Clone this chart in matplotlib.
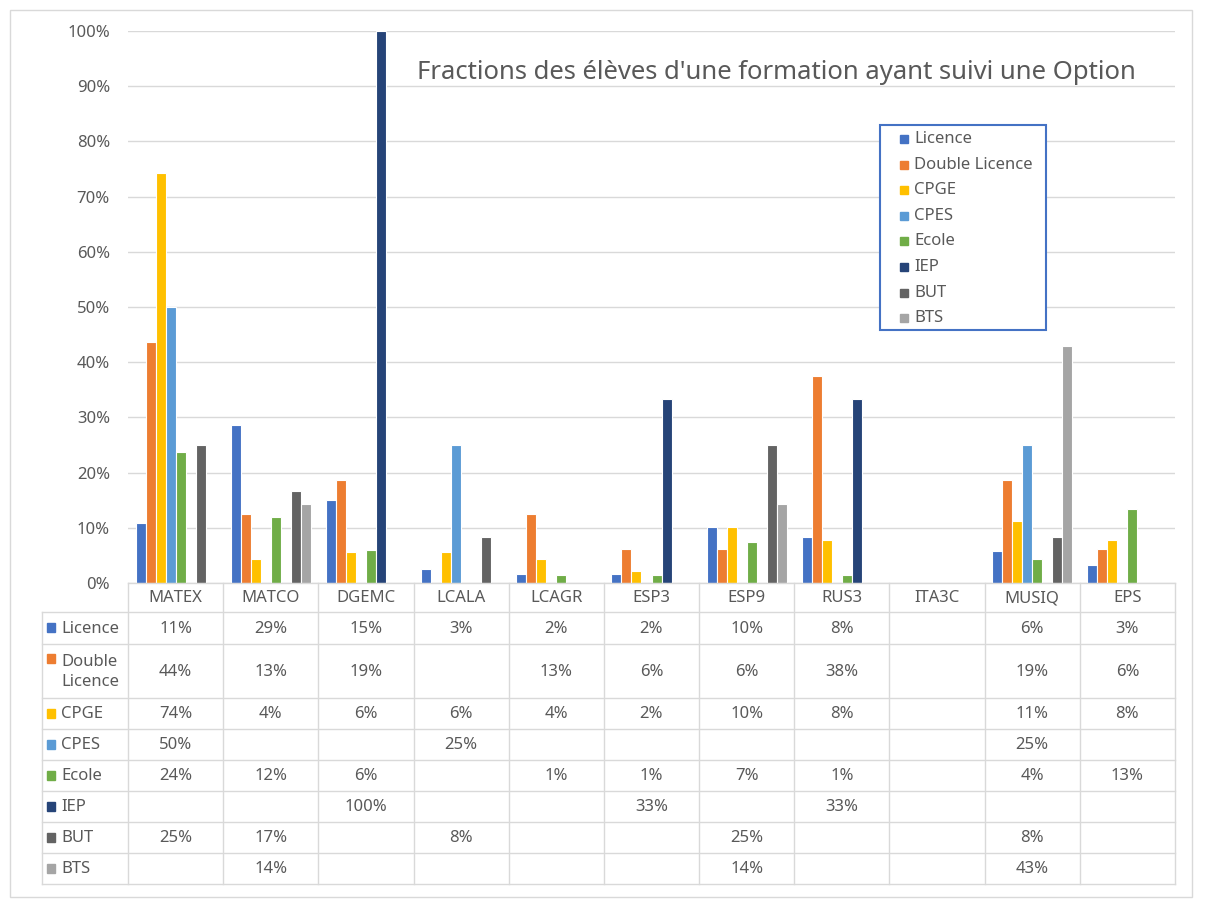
import numpy as np
import matplotlib.pyplot as plt
from matplotlib.patches import Rectangle

plt.rcParams['font.family'] = ['Noto Sans', 'DejaVu Sans']

categories = ['MATEX', 'MATCO', 'DGEMC', 'LCALA', 'LCAGR', 'ESP3', 'ESP9', 'RUS3', 'ITA3C', 'MUSIQ', 'EPS']
series = ['Licence', 'Double Licence', 'CPGE', 'CPES', 'Ecole', 'IEP', 'BUT', 'BTS']
row_labels = ['Licence', 'Double\nLicence', 'CPGE', 'CPES', 'Ecole', 'IEP', 'BUT', 'BTS']
colors = ['#4472C4', '#ED7D31', '#FFC000', '#5B9BD5', '#70AD47', '#264478', '#636363', '#A5A5A5']

n = np.nan
# valeurs en %
licence = [10.8, 28.6, 15.1, 2.5, 1.6, 1.6, 10.1, 8.4, n, 5.8, 3.3]
double_licence = [43.75, 12.5, 18.75, n, 12.5, 6.25, 6.25, 37.5, n, 18.75, 6.25]
cpge = [74.2, 4.4, 5.6, 5.6, 4.4, 2.2, 10.1, 7.8, n, 11.2, 7.8]
cpes = [50.0, n, n, 25.0, n, n, n, n, n, 25.0, n]
ecole = [23.8, 11.9, 6.0, n, 1.4, 1.4, 7.4, 1.4, n, 4.4, 13.4]
iep = [n, n, 100.0, n, n, 33.3, n, 33.3, n, n, n]
but = [25.0, 16.7, n, 8.3, n, n, 25.0, n, n, 8.3, n]
bts = [n, 14.3, n, n, n, n, 14.3, n, n, 42.9, n]
values = [licence, double_licence, cpge, cpes, ecole, iep, but, bts]

grey = '#595959'
line = '#d9d9d9'
W, H = 1205, 900

fig = plt.figure(figsize=(12.05, 9), dpi=100)
fig.patches.append(Rectangle((10 / W, 1 - 897 / H), 1182 / W, 887 / H, transform=fig.transFigure,
                             fill=False, edgecolor=line, linewidth=1))

# ---- graphique
ax = fig.add_axes([128 / W, 1 - 583 / H, (1175 - 128) / W, (583 - 31) / H])
x = np.arange(len(categories))
w = 1 / 9.5
for j, (name, vals) in enumerate(zip(series, values)):
    ax.bar(x + (j - 3.5) * w, np.nan_to_num(vals), width=w, color=colors[j],
           edgecolor='white', linewidth=0.8, label=name, zorder=3)
ax.set_xlim(-0.5, 10.5)
ax.set_ylim(0, 100)
ax.set_yticks(range(0, 101, 10))
ax.set_yticklabels([f'{v}%' for v in range(0, 101, 10)])
ax.set_xticks([])
ax.tick_params(axis='y', length=0, pad=13, colors=grey, labelsize=12)
ax.grid(axis='y', color=line, linewidth=1, zorder=0)
for s in ax.spines.values():
    s.set_visible(False)

ax.text(0.619, 0.924, "Fractions des élèves d'une formation ayant suivi une Option",
        transform=ax.transAxes, ha='center', va='center', fontsize=18.5, color=grey)

# legende (cadre bleu)
fig.patches.append(Rectangle((880 / W, 1 - 330 / H), 166 / W, 205 / H, transform=fig.transFigure,
                             facecolor='white', edgecolor='#4472C4', linewidth=1.5, zorder=5))
for k, (name, c) in enumerate(zip(series, colors)):
    yk = 139 + k * 25.6
    fig.patches.append(Rectangle((900 / W, 1 - (yk + 4) / H), 8 / W, 8 / H,
                                 transform=fig.transFigure, color=c, zorder=6))
    fig.text(914 / W, 1 - yk / H, name, ha='left', va='center', fontsize=12, color=grey, zorder=6)

# ---- tableau
cw = (1175 - 128) / 11
lab_w = (128 - 42) / cw
tab = fig.add_axes([42 / W, 1 - 885 / H, (1175 - 42) / W, (885 - 583) / H])
tab.set_xlim(-0.5 - lab_w, 10.5)
tab.set_ylim(885, 583)
tab.axis('off')

rows = [583, 612, 644, 698, 729, 760, 791, 822, 853, 884]
tab.plot([-0.5, 10.5], [rows[0], rows[0]], color=line, lw=1, clip_on=False)
for r in rows[1:]:
    tab.plot([-0.5 - lab_w, 10.5], [r, r], color=line, lw=1, clip_on=False)
for k in range(12):
    tab.plot([-0.5 + k, -0.5 + k], [rows[0], rows[-1]], color=line, lw=1, clip_on=False)
tab.plot([-0.5 - lab_w] * 2, [rows[1], rows[-1]], color=line, lw=1, clip_on=False)

for i, c in enumerate(categories):
    tab.text(i, (rows[0] + rows[1]) / 2 + 1, c, ha='center', va='center', fontsize=12, color=grey)

px = lambda p: -0.5 - (128 - p) / cw
for j, lab in enumerate(row_labels):
    yc = (rows[j + 1] + rows[j + 2]) / 2
    ym = yc - 12 if '\n' in lab else yc
    tab.add_patch(Rectangle((px(47), ym - 4.5), 8 / cw, 9, color=colors[j], clip_on=False))
    tab.text(px(61), yc + 1, lab, ha='left', va='center', fontsize=12, color=grey, linespacing=1.4)
    for i, v in enumerate(values[j]):
        if not np.isnan(v):
            tab.text(i, yc + 1, f'{int(v + 0.5)}%', ha='center', va='center', fontsize=12, color=grey)

fig.savefig('out.png', dpi=100)
